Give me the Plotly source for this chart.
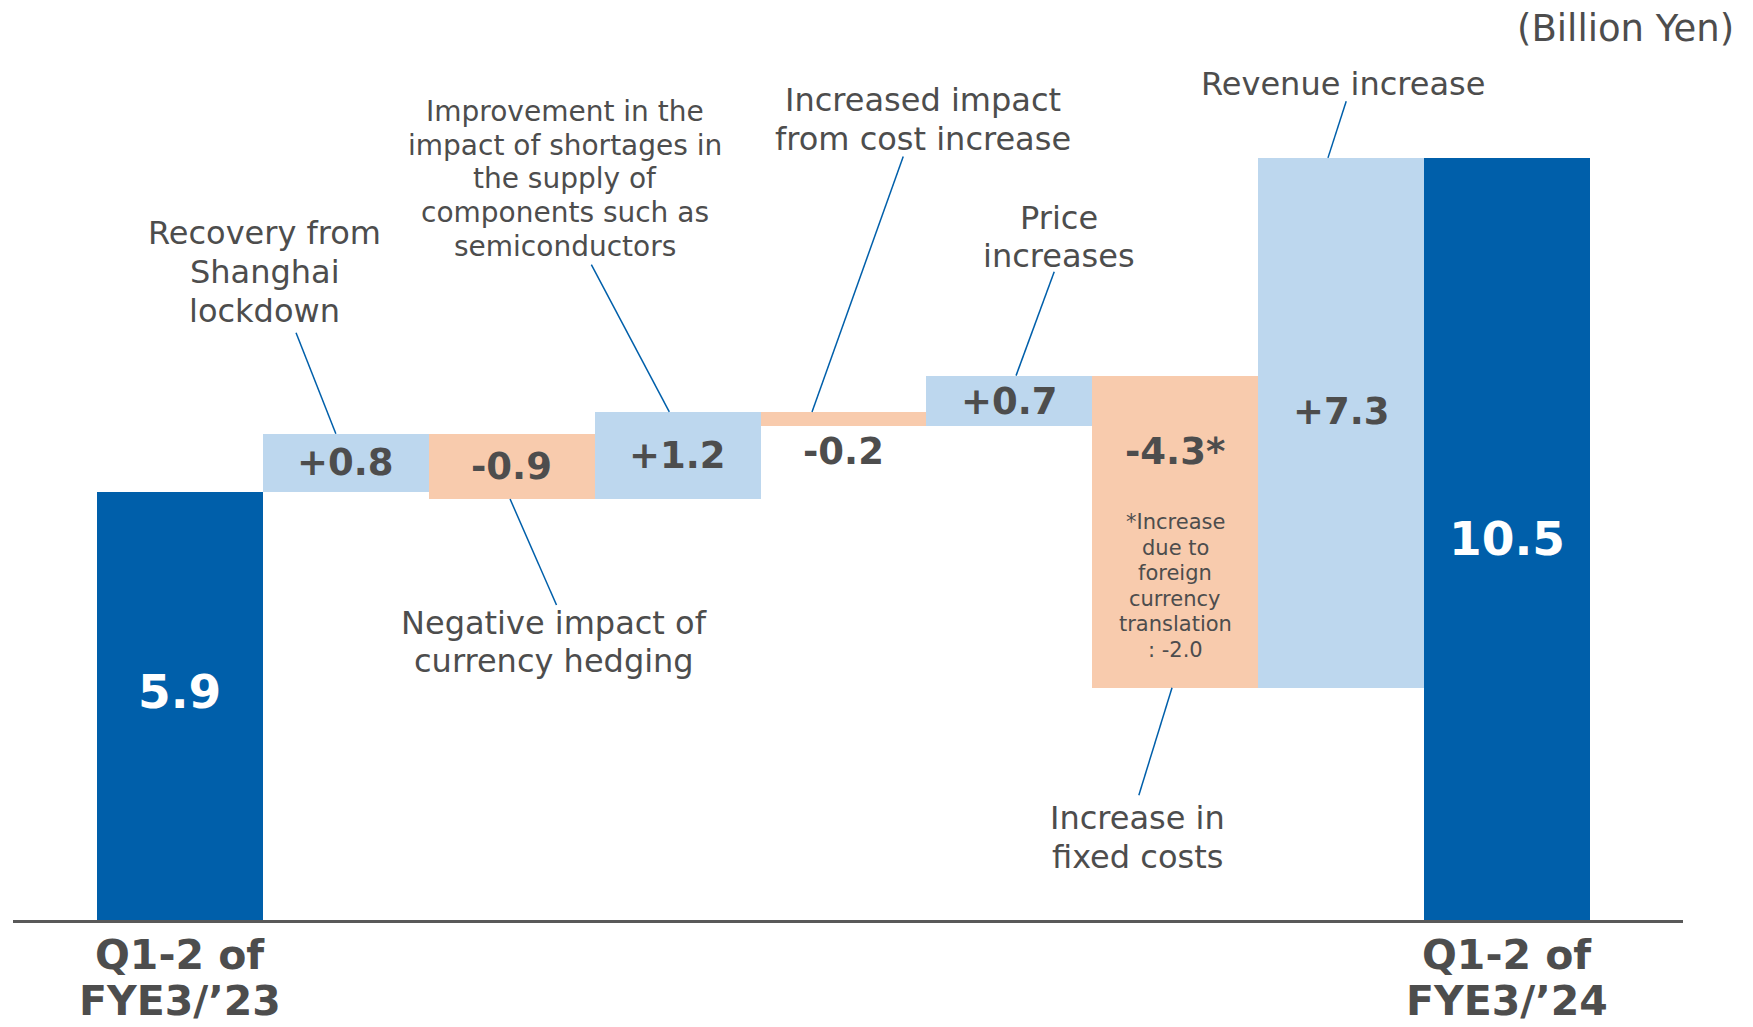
import plotly.graph_objects as go

# contribution steps of the operating profit bridge (Billion Yen)
steps = ["Q1-2 FYE3/'23", "Shanghai", "Hedging", "Shortages", "Cost",
         "Price", "Fixed costs", "Revenue", "Q1-2 FYE3/'24"]
values = [5.9, 0.8, -0.9, 1.2, -0.2, 0.7, -4.3, 7.3, 10.5]
measures = ["absolute"] + ["relative"] * 7 + ["total"]
value_text = ["5.9", "+0.8", "-0.9", "+1.2", "-0.2", "+0.7", "-4.3*", "+7.3", "10.5"]
tick_labels = [["Q1-2 of", "FYE3/\u201923"], ["Q1-2 of", "FYE3/\u201924"]]
notes = {
    1: ["Recovery from", "Shanghai", "lockdown"],
    2: ["Negative impact of", "currency hedging"],
    3: ["Improvement in the", "impact of shortages in", "the supply of",
        "components such as", "semiconductors"],
    4: ["Increased impact", "from cost increase"],
    5: ["Price", "increases"],
    6: ["Increase in", "fixed costs"],
    7: ["Revenue increase"],
}
footnote = ["*Increase", "due to", "foreign", "currency", "translation", ": -2.0"]

DARK = "#005FAA"
UP = "#BDD7EE"
DOWN = "#F8CBAD"
GREY = "#4D4D4D"
FONT = "DejaVu Sans"

xs = list(range(len(values)))

# bar extents from the running total
lows, highs = [], []
level = 0
for v, m in zip(values, measures):
    if m == "relative":
        lo, hi = sorted([level, level + v])
        level += v
    else:
        lo, hi = 0, v
        level = v
    lows.append(lo)
    highs.append(hi)

fig = go.Figure(go.Waterfall(
    x=xs, y=values, measure=measures,
    increasing=dict(marker=dict(color=UP)),
    decreasing=dict(marker=dict(color=DOWN)),
    totals=dict(marker=dict(color=DARK)),
    connector=dict(visible=False),
    hoverinfo="skip",
))

ann = []


def text_block(x, y, lines, size, gap, bold=False, color=GREY, shift=0):
    # one annotation per line so the line spacing can be set freely
    n = len(lines)
    for k, line in enumerate(lines):
        ann.append(dict(x=x, y=y, text=line, showarrow=False,
                        yshift=shift + ((n - 1) / 2 - k) * gap,
                        font=dict(family=FONT, size=size, color=color,
                                  weight="bold" if bold else "normal")))


for i, t in enumerate(value_text):
    y = (lows[i] + highs[i]) / 2
    if i == 0:
        y += 0.2
    if i == 4:
        y = lows[i] - 0.35
    if i == 6:
        y = highs[i] - 1.05
    if i == 7:
        y = lows[i] + 3.8
    total = measures[i] != "relative"
    text_block(i, y, [t], 47 if total else 37, 0, bold=True,
               color="white" if total else GREY)

text_block(6, 4.6, footnote, 21, 25.5)

# category labels under the first and last bar
for x, lines in zip([xs[0], xs[-1]], tick_labels):
    text_block(x, 0, lines, 41, 46, bold=True, shift=-58)

# callout text (x, y) and leader line (from, to) per step
callout = {
    1: ((0.51, 8.93), (0.70, 8.09), (0.94, highs[1])),
    2: ((2.255, 3.83), (1.99, lows[2]), (2.27, 4.34)),
    3: ((2.32, 10.21), (2.48, 9.03), (2.95, highs[3])),
    4: ((4.48, 11.03), (4.36, 10.52), (3.81, highs[4])),
    5: ((5.30, 9.41), (5.27, 8.93), (5.04, highs[5])),
    6: ((5.77, 1.14), (5.98, lows[6]), (5.78, 1.72)),
    7: ((7.01, 11.52), (7.03, 11.28), (6.92, highs[7])),
}
shapes = []
for i, (pos, p0, p1) in callout.items():
    if i == 3:
        text_block(pos[0], pos[1], notes[i], 28, 33.7)
    else:
        text_block(pos[0], pos[1], notes[i], 32, 38.7)
    shapes.append(dict(type="line", xref="x", yref="y", x0=p0[0], y0=p0[1],
                       x1=p1[0], y1=p1[1], line=dict(color=DARK, width=1.5)))

ann.append(dict(xref="paper", yref="paper", x=1.032, y=1.024, text="(Billion Yen)",
                xanchor="right", yanchor="middle", showarrow=False,
                font=dict(family=FONT, size=37, color=GREY)))

# the page body adds an 8px margin, so the figure is 8px smaller
fig.update_layout(
    width=1745, height=1019,
    margin=dict(l=5, r=70, t=41, b=107, autoexpand=False),
    plot_bgcolor="white", paper_bgcolor="white",
    waterfallgap=0,
    showlegend=False,
    annotations=ann,
    shapes=shapes,
    xaxis=dict(range=[-1.006, 9.06], showticklabels=False, automargin=False,
               showgrid=False, zeroline=False, showline=True,
               linecolor="#595959", linewidth=3, ticks=""),
    yaxis=dict(range=[0, 12], visible=False, automargin=False,
               showgrid=False, zeroline=False),
)

fig.write_html("out.html")
